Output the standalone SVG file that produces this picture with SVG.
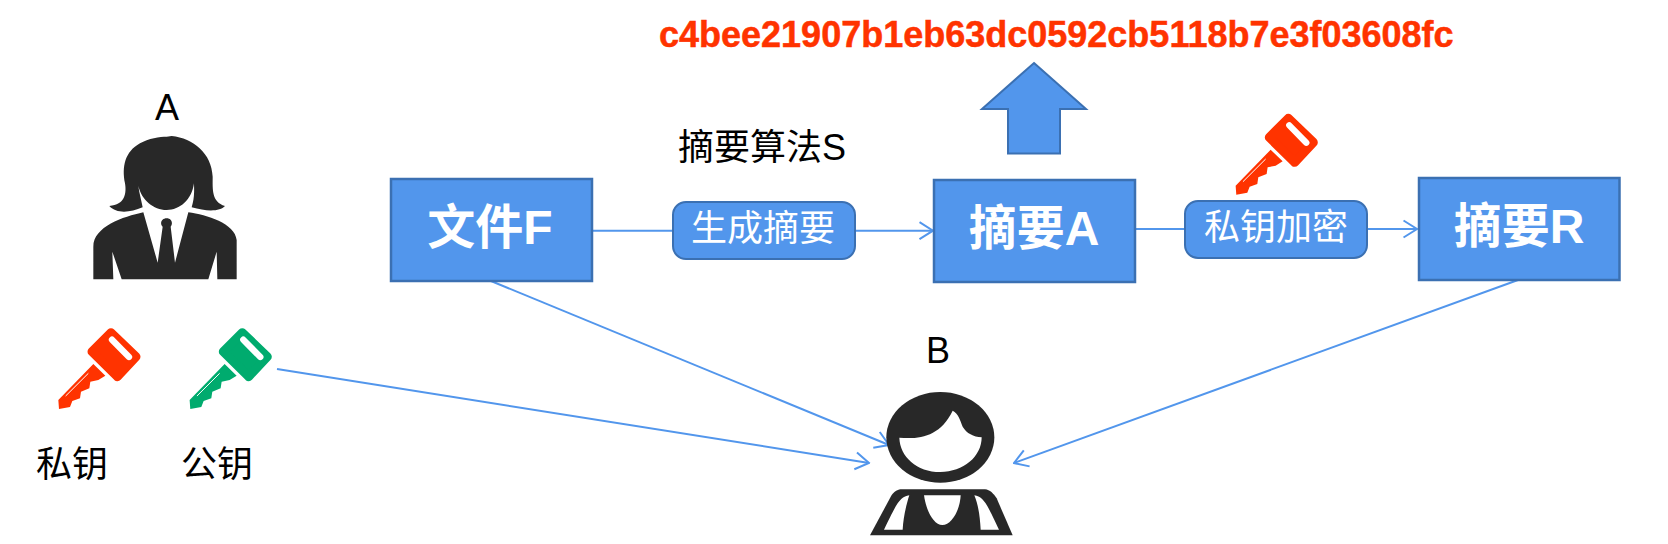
<svg xmlns="http://www.w3.org/2000/svg" width="1668" height="544" viewBox="0 0 1668 544">
  <style>
    .box { fill: #5296EC; stroke: #3B70B2; stroke-width: 2.5; }
    .pill { fill: #5296EC; stroke: #3B70B2; stroke-width: 2; }
    .boxtext { font-family: "Liberation Sans", "Noto Sans CJK SC", sans-serif; font-size: 48px; font-weight: 700; fill: #fff; text-anchor: middle; }
    .pilltext { font-family: "Liberation Sans", "Noto Sans CJK SC", sans-serif; font-size: 36px; fill: #fff; text-anchor: middle; }
    .label { font-family: "Liberation Sans", "Noto Sans CJK SC", sans-serif; font-size: 36px; fill: #000; text-anchor: middle; }
    .hash { font-family: "Liberation Sans", sans-serif; font-size: 36px; font-weight: 700; fill: #FF3300; stroke: #FF3300; stroke-width: 0.5; }
    .conn { fill: none; stroke: #5296EC; stroke-width: 2; }
    .dark { fill: #282828; }
    .red { color: #FF3300; }
    .green { color: #00AB6E; }
  </style>
  <defs>
    <marker id="arrow" viewBox="0 0 16 20" refX="14.5" refY="10" markerWidth="16" markerHeight="20" markerUnits="userSpaceOnUse" orient="auto">
      <path d="M1 1.5 L14.5 10 L1 18.5" fill="none" stroke="#5296EC" stroke-width="2"/>
    </marker>
    <g id="key" transform="scale(0.33333)">
      <polygon points="243,128 318,200 262,260 186,185" fill="currentColor" stroke="currentColor" stroke-width="27" stroke-linejoin="round"/>
      <path d="M190 222 L85 330 L87 357 L120 351 L127 333 L150 325 L153 305 L178 295 L181 275 L205 270 L226 257 Z" fill="currentColor"/>
      <line x1="246" y1="149" x2="297" y2="201" stroke="#fff" stroke-width="19" stroke-linecap="round"/>
      <line x1="107" y1="318" x2="175" y2="250" stroke="#fff" stroke-width="3"/>
    </g>
  </defs>

  <g id="connectors">
    <line class="conn" x1="592" y1="230.7" x2="672" y2="230.7"/>
    <line class="conn" x1="855" y1="230.7" x2="933" y2="230.7" marker-end="url(#arrow)"/>
    <line class="conn" x1="1135" y1="229" x2="1185" y2="229"/>
    <line class="conn" x1="1367" y1="229" x2="1417" y2="229" marker-end="url(#arrow)"/>
    <line class="conn" x1="491" y1="281" x2="889" y2="445" marker-end="url(#arrow)"/>
    <line class="conn" x1="277" y1="369" x2="869" y2="463" marker-end="url(#arrow)"/>
    <line class="conn" x1="1518" y1="280" x2="1014" y2="463" marker-end="url(#arrow)"/>
  </g>

  <g id="hash-value">
    <text class="hash" x="659" y="46.5">c4bee21907b1eb63dc0592cb5118b7e3f03608fc</text>
  </g>

  <g id="up-arrow">
    <polygon class="pill" points="1034,63 1086,109 1060,109 1060,153.5 1008,153.5 1008,109 982,109"/>
  </g>

  <g id="person-a">
    <text class="label" x="167" y="120">A</text>
    <g transform="translate(60 80) scale(0.33333)">
      <path class="dark" d="M335 168 C400 175 455 220 458 290 C458 330 455 365 495 378 C480 395 440 395 395 382 C405 350 402 325 402 310 C395 360 360 390 320 390 C280 390 245 360 235 318 C238 340 245 365 248 382 C210 398 170 402 148 378 C195 375 200 340 195 310 C185 260 195 215 240 190 C265 175 300 170 320 170 Z"/>
      <path class="dark" d="M250 397 C190 410 100 440 100 500 L100 598 L160 598 L157 515 L185 598 L445 598 L470 515 L472 598 L530 598 L530 480 C525 430 440 405 385 397 L345 548 L332 440 C340 430 335 415 320 415 C305 415 298 430 308 440 L293 548 Z"/>
    </g>
  </g>

  <g id="private-key">
    <use href="#key" class="red" transform="translate(30 290)"/>
    <text class="label" x="72" y="477">私钥</text>
  </g>

  <g id="public-key">
    <use href="#key" class="green" transform="translate(161.3 290)"/>
    <text class="label" x="217" y="477">公钥</text>
  </g>

  <g id="algo-label">
    <text class="label" x="762" y="160">摘要算法S</text>
  </g>

  <g id="node-file">
    <rect class="box" x="391" y="179" width="201" height="102"/>
    <text class="boxtext" x="490" y="244">文件F</text>
  </g>

  <g id="node-generate">
    <rect class="pill" x="673" y="202" width="182" height="57" rx="13"/>
    <text class="pilltext" x="763" y="241">生成摘要</text>
  </g>

  <g id="node-digest">
    <rect class="box" x="934" y="180" width="201" height="102"/>
    <text class="boxtext" x="1034" y="245">摘要A</text>
  </g>

  <g id="key-encrypt">
    <use href="#key" class="red" transform="translate(1207.3 75.7)"/>
  </g>

  <g id="node-encrypt">
    <rect class="pill" x="1185" y="201" width="182" height="57" rx="13"/>
    <text class="pilltext" x="1276" y="240">私钥加密</text>
  </g>

  <g id="node-result">
    <rect class="box" x="1419" y="178" width="200.5" height="102"/>
    <text class="boxtext" x="1519" y="243">摘要R</text>
  </g>

  <g id="person-b">
    <text class="label" x="938" y="363">B</text>
    <g transform="translate(850 380) scale(0.33333)">
      <ellipse class="dark" cx="271" cy="172" rx="162" ry="136"/>
      <path fill="#fff" d="M148 173 C210 178 270 170 308 92 C325 100 330 120 338 140 C350 160 370 170 395 172 C395 230 340 276 271 276 C200 276 150 230 148 173 Z"/>
      <path class="dark" d="M60 466 L125 345 C135 332 145 328 155 328 L405 328 C420 330 430 340 440 355 L488 466 Z"/>
      <path fill="#fff" d="M178 346 C150 350 140 370 102 449 L158 449 C160 410 170 370 178 346 Z"/>
      <path fill="#fff" d="M373 346 C400 350 410 370 447 449 L392 449 C390 410 385 375 373 346 Z"/>
      <path fill="#fff" d="M222 346 L332 346 C330 390 305 435 277 435 C250 435 228 390 222 346 Z"/>
    </g>
  </g>
</svg>
